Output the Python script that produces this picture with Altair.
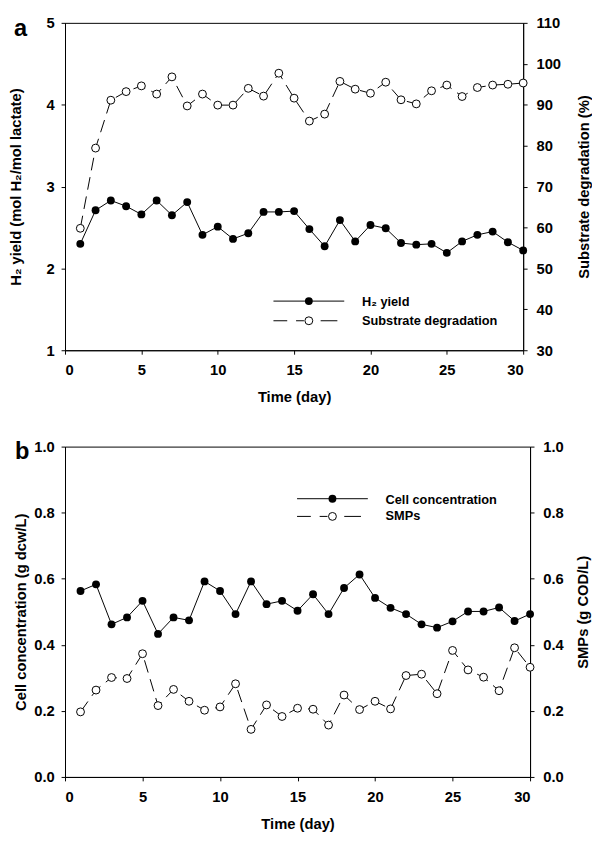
import altair as alt
import pandas as pd

FONT = "Liberation Sans"

# ---------------- data ----------------
days = list(range(1, 31))

h2_yield = [2.30, 2.71, 2.83, 2.76, 2.66, 2.83, 2.65, 2.81, 2.41, 2.51,
            2.36, 2.43, 2.69, 2.69, 2.70, 2.48, 2.27, 2.59, 2.33, 2.53,
            2.49, 2.31, 2.29, 2.30, 2.19, 2.33, 2.41, 2.45, 2.32, 2.22]

substrate_deg = [59.8, 79.4, 91.1, 93.2, 94.6, 92.6, 96.8, 89.7, 92.6, 89.9,
                 89.9, 94.0, 92.1, 97.7, 91.6, 86.0, 87.7, 95.7, 93.8, 92.8,
                 95.5, 91.2, 90.2, 93.4, 94.8, 92.0, 94.2, 94.8, 95.0, 95.3]

cell_conc = [0.563, 0.583, 0.462, 0.483, 0.533, 0.433, 0.483, 0.474, 0.592, 0.563,
             0.493, 0.592, 0.523, 0.533, 0.503, 0.553, 0.493, 0.572, 0.613, 0.542,
             0.512, 0.493, 0.462, 0.452, 0.471, 0.501, 0.501, 0.513, 0.472, 0.493]

smps = [0.197, 0.263, 0.301, 0.298, 0.373, 0.216, 0.265, 0.229, 0.202, 0.212,
        0.282, 0.144, 0.218, 0.183, 0.208, 0.205, 0.157, 0.248, 0.204, 0.229,
        0.206, 0.307, 0.311, 0.252, 0.383, 0.324, 0.302, 0.261, 0.391, 0.332]

x_ticks = [0, 5, 10, 15, 20, 25, 30]
ya_left_ticks = [1, 2, 3, 4, 5]
ya_right_ticks = [30, 40, 50, 60, 70, 80, 90, 100, 110]
yb_ticks = [0.0, 0.2, 0.4, 0.6, 0.8, 1.0]

legend_a = ["H\u2082 yield", "Substrate degradation"]
legend_b = ["Cell concentration", "SMPs"]
panel_letters = ["a", "b"]

df_a = pd.DataFrame({"day": days, "h2": h2_yield, "sub": substrate_deg})
df_b = pd.DataFrame({"day": days, "cell": cell_conc, "smp": smps})
one = pd.DataFrame({"k": [0]})

DASH = [13, 7]
MSIZE = 64


def x_enc():
    return alt.X(
        "day:Q",
        scale=alt.Scale(domain=[0, 30], nice=False, zero=False),
        axis=alt.Axis(values=x_ticks, format="d", title="Time (day)",
                      labelPadding=9, titlePadding=12),
    )


def series(df, field, y_scale, y_axis, open_marker):
    y = alt.Y(f"{field}:Q", scale=y_scale, axis=y_axis)
    base = alt.Chart(df)
    if open_marker:
        line = base.mark_line(color="black", strokeWidth=1, strokeDash=DASH)
        pts = base.mark_point(shape="circle", filled=True, fill="white",
                              stroke="black", strokeWidth=1, size=MSIZE, opacity=1)
    else:
        line = base.mark_line(color="black", strokeWidth=1)
        pts = base.mark_point(shape="circle", filled=True, color="black",
                              size=MSIZE, opacity=1)
    return alt.layer(line.encode(x=x_enc(), y=y), pts.encode(x=x_enc(), y=y))


def rule(x1, x2, y):
    return alt.Chart(one).mark_rule(color="black", strokeWidth=1).encode(
        x=alt.value(x1), x2=alt.value(x2), y=alt.value(y))


def marker(x, y, open_marker):
    if open_marker:
        m = alt.Chart(one).mark_point(shape="circle", filled=True, fill="white",
                                      stroke="black", strokeWidth=1, size=MSIZE, opacity=1)
    else:
        m = alt.Chart(one).mark_point(shape="circle", filled=True, color="black",
                                      size=MSIZE, opacity=1)
    return m.encode(x=alt.value(x), y=alt.value(y))


def label(txt, x, y, size=13, align="left"):
    return alt.Chart(one).mark_text(text=txt, font=FONT, fontSize=size, fontWeight="bold",
                                    align=align, baseline="middle", color="black").encode(
        x=alt.value(x), y=alt.value(y))


def legend(x0, y0, gap, names):
    # solid line + filled marker, dashed line + open marker
    return [
        rule(x0, x0 + 72, y0),
        marker(x0 + 36, y0, False),
        label(names[0], x0 + 90, y0 + 1),
        rule(x0, x0 + 14, y0 + gap),
        rule(x0 + 23, x0 + 31, y0 + gap),
        rule(x0 + 48, x0 + 65, y0 + gap),
        marker(x0 + 36, y0 + gap, True),
        label(names[1], x0 + 90, y0 + gap),
    ]


def letter(ch, x, y):
    return alt.Chart(one).mark_text(text=ch, font=FONT, fontSize=24, fontWeight="bold",
                                    align="left", baseline="top",
                                    color="black").encode(x=alt.value(x), y=alt.value(y))


# ---------------- panel a ----------------
a_left = series(
    df_a, "h2",
    alt.Scale(domain=[1, 5], nice=False, zero=False),
    alt.Axis(values=ya_left_ticks, format="d", orient="left", labelPadding=7,
             title="H\u2082 yield (mol H\u2082/mol lactate)", titlePadding=23),
    False)
a_right = series(
    df_a, "sub",
    alt.Scale(domain=[30, 110], nice=False, zero=False),
    alt.Axis(values=ya_right_ticks, format="d", orient="right", labelPadding=9,
             title="Substrate degradation (%)", titleAngle=270, titleBaseline="top",
             titlePadding=16),
    True)

panel_a = alt.layer(
    a_right, a_left, *legend(212, 283, 20, legend_a), letter(panel_letters[0], -52, -6)
).resolve_scale(y="independent").properties(width=466, height=333)

# ---------------- panel b ----------------
b_left = series(
    df_b, "cell",
    alt.Scale(domain=[0, 1], nice=False, zero=False),
    alt.Axis(values=yb_ticks, format=".1f", orient="left", labelPadding=7,
             title="Cell concentration (g dcw/L)", titlePadding=5),
    False)
b_right = series(
    df_b, "smp",
    alt.Scale(domain=[0, 1], nice=False, zero=False),
    alt.Axis(values=yb_ticks, format=".1f", orient="right", labelPadding=9,
             title="SMPs (g COD/L)", titleAngle=270, titleBaseline="top",
             titlePadding=13),
    True)

panel_b = alt.layer(
    b_left, b_right, *legend(236, 53, 18, legend_b), letter(panel_letters[1], -51, -6)
).resolve_scale(y="independent").properties(width=473, height=336)

chart = alt.vconcat(panel_a, panel_b, spacing=34).properties(
    padding={"left": 0, "top": 0, "right": 0, "bottom": 0}
).configure_view(
    stroke="black", strokeWidth=1
).configure_axis(
    grid=False,
    domainColor="black", domainWidth=1,
    tickColor="black", tickSize=4, tickWidth=1,
    labelFont=FONT, labelFontSize=15, labelFontWeight="bold", labelColor="black",
    titleFont=FONT, titleFontSize=15, titleFontWeight="bold", titleColor="black",
)

chart.save("out.html", embed_options={"renderer": "svg", "actions": False})
